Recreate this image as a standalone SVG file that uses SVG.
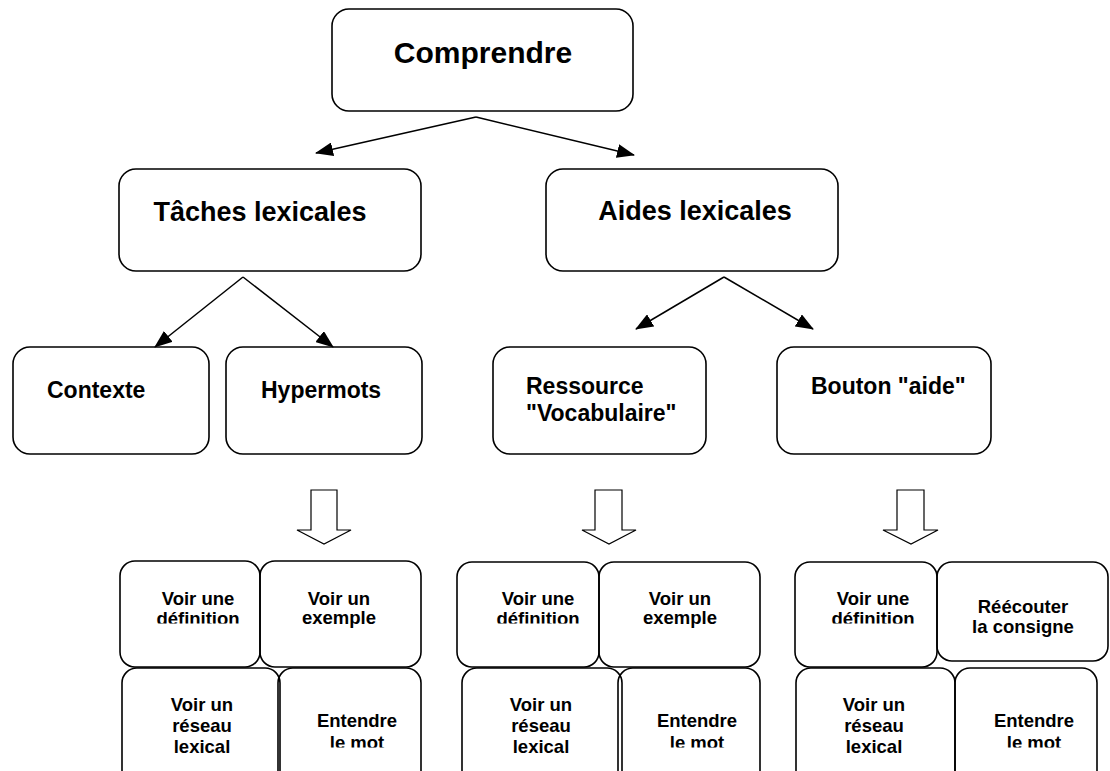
<svg xmlns="http://www.w3.org/2000/svg" width="1110" height="771" viewBox="0 0 1110 771">
<style>
.box{fill:none;stroke:#000;stroke-width:1.6}
.blk{fill:none;stroke:#000;stroke-width:1.2}
.edge{stroke:#000;stroke-width:1.5;fill:none;marker-end:url(#ah)}
text{font-family:"Liberation Sans",Arial,sans-serif;font-weight:bold;fill:#000}
.t1{font-size:30px;text-anchor:middle}
.t2{font-size:27px;text-anchor:middle}
.t3{font-size:23px}
.t4{font-size:18.5px;text-anchor:middle}
</style>
<defs>
<marker id="ah" markerUnits="userSpaceOnUse" markerWidth="18" markerHeight="14" refX="17" refY="7" orient="auto">
<path d="M0,0 L18,7 L0,14 z" fill="#000"/>
</marker>
<clipPath id="c1"><rect x="0" y="0" width="1110" height="623.5"/></clipPath>
<clipPath id="c2"><rect x="0" y="0" width="1110" height="747.5"/></clipPath>
</defs>
<rect width="1110" height="771" fill="#fff"/>

<g id="connectors">
<line class="edge" x1="476" y1="117" x2="316" y2="153"/>
<line class="edge" x1="476" y1="117" x2="634" y2="155"/>
<line class="edge" x1="243" y1="277" x2="155" y2="347"/>
<line class="edge" x1="243" y1="277" x2="333" y2="347"/>
<line class="edge" x1="724" y1="277" x2="636" y2="329"/>
<line class="edge" x1="724" y1="277" x2="813" y2="329"/>
<path id="blk1" class="blk" d="M311,490 H337 V530 H351 L324,544 L297,530 H311 Z"/>
<path id="blk2" class="blk" d="M595,490 H622 V530 H636 L609,544 L582,530 H595 Z"/>
<path id="blk3" class="blk" d="M897,490 H924 V530 H938 L911,544 L883,530 H897 Z"/>
</g>

<g id="n-comprendre"><rect class="box" x="332" y="9" width="301" height="102" rx="17"/><text class="t1" x="483" y="63">Comprendre</text></g>
<g id="n-taches"><rect class="box" x="119" y="169" width="302" height="102" rx="17"/><text class="t2" x="260" y="221">Tâches lexicales</text></g>
<g id="n-aides"><rect class="box" x="546" y="169" width="292" height="102" rx="17"/><text class="t2" x="695" y="220">Aides lexicales</text></g>

<g id="n-contexte"><rect class="box" x="13" y="347" width="196" height="107" rx="17"/><text class="t3" x="47" y="398">Contexte</text></g>
<g id="n-hypermots"><rect class="box" x="226" y="347" width="196" height="107" rx="17"/><text class="t3" x="261" y="398">Hypermots</text></g>
<g id="n-ressource"><rect class="box" x="493" y="347" width="213" height="107" rx="17"/><text class="t3" x="526" y="394">Ressource</text><text class="t3" x="526" y="421">"Vocabulaire"</text></g>
<g id="n-bouton"><rect class="box" x="777" y="347" width="214" height="107" rx="17"/><text class="t3" x="811" y="394">Bouton "aide"</text></g>

<g id="g1-def"><rect class="box" x="120" y="561" width="140" height="106" rx="15"/><text class="t4" x="198" y="605">Voir une</text><text class="t4" x="198" y="624.5" clip-path="url(#c1)">définition</text></g>
<g id="g1-ex"><rect class="box" x="260" y="561" width="161" height="106" rx="15"/><text class="t4" x="339" y="605">Voir un</text><text class="t4" x="339" y="624">exemple</text></g>
<g id="g1-res"><rect class="box" x="122" y="668" width="158" height="130" rx="15"/><text class="t4" x="202" y="711">Voir un</text><text class="t4" x="202" y="732">réseau</text><text class="t4" x="202" y="753">lexical</text></g>
<g id="g1-ent"><rect class="box" x="278" y="668" width="143" height="130" rx="15"/><text class="t4" x="357" y="727">Entendre</text><text class="t4" x="357" y="748.5" clip-path="url(#c2)">le mot</text></g>

<g id="g2-def"><rect class="box" x="457" y="562" width="142" height="105" rx="15"/><text class="t4" x="538" y="605">Voir une</text><text class="t4" x="538" y="624.5" clip-path="url(#c1)">définition</text></g>
<g id="g2-ex"><rect class="box" x="599" y="562" width="161" height="105" rx="15"/><text class="t4" x="680" y="605">Voir un</text><text class="t4" x="680" y="624">exemple</text></g>
<g id="g2-res"><rect class="box" x="462" y="668" width="160" height="130" rx="15"/><text class="t4" x="541" y="711">Voir un</text><text class="t4" x="541" y="732">réseau</text><text class="t4" x="541" y="753">lexical</text></g>
<g id="g2-ent"><rect class="box" x="618" y="668" width="142" height="130" rx="15"/><text class="t4" x="697" y="727">Entendre</text><text class="t4" x="697" y="748.5" clip-path="url(#c2)">le mot</text></g>

<g id="g3-def"><rect class="box" x="795" y="562" width="142" height="105" rx="15"/><text class="t4" x="873" y="605">Voir une</text><text class="t4" x="873" y="624.5" clip-path="url(#c1)">définition</text></g>
<g id="g3-reec"><rect class="box" x="937" y="562" width="171" height="99" rx="15"/><text class="t4" x="1023" y="613">Réécouter</text><text class="t4" x="1023" y="633">la consigne</text></g>
<g id="g3-res"><rect class="box" x="796" y="668" width="159" height="130" rx="15"/><text class="t4" x="874" y="711">Voir un</text><text class="t4" x="874" y="732">réseau</text><text class="t4" x="874" y="753">lexical</text></g>
<g id="g3-ent"><rect class="box" x="955" y="668" width="142" height="130" rx="15"/><text class="t4" x="1034" y="727">Entendre</text><text class="t4" x="1034" y="748.5" clip-path="url(#c2)">le mot</text></g>
</svg>
